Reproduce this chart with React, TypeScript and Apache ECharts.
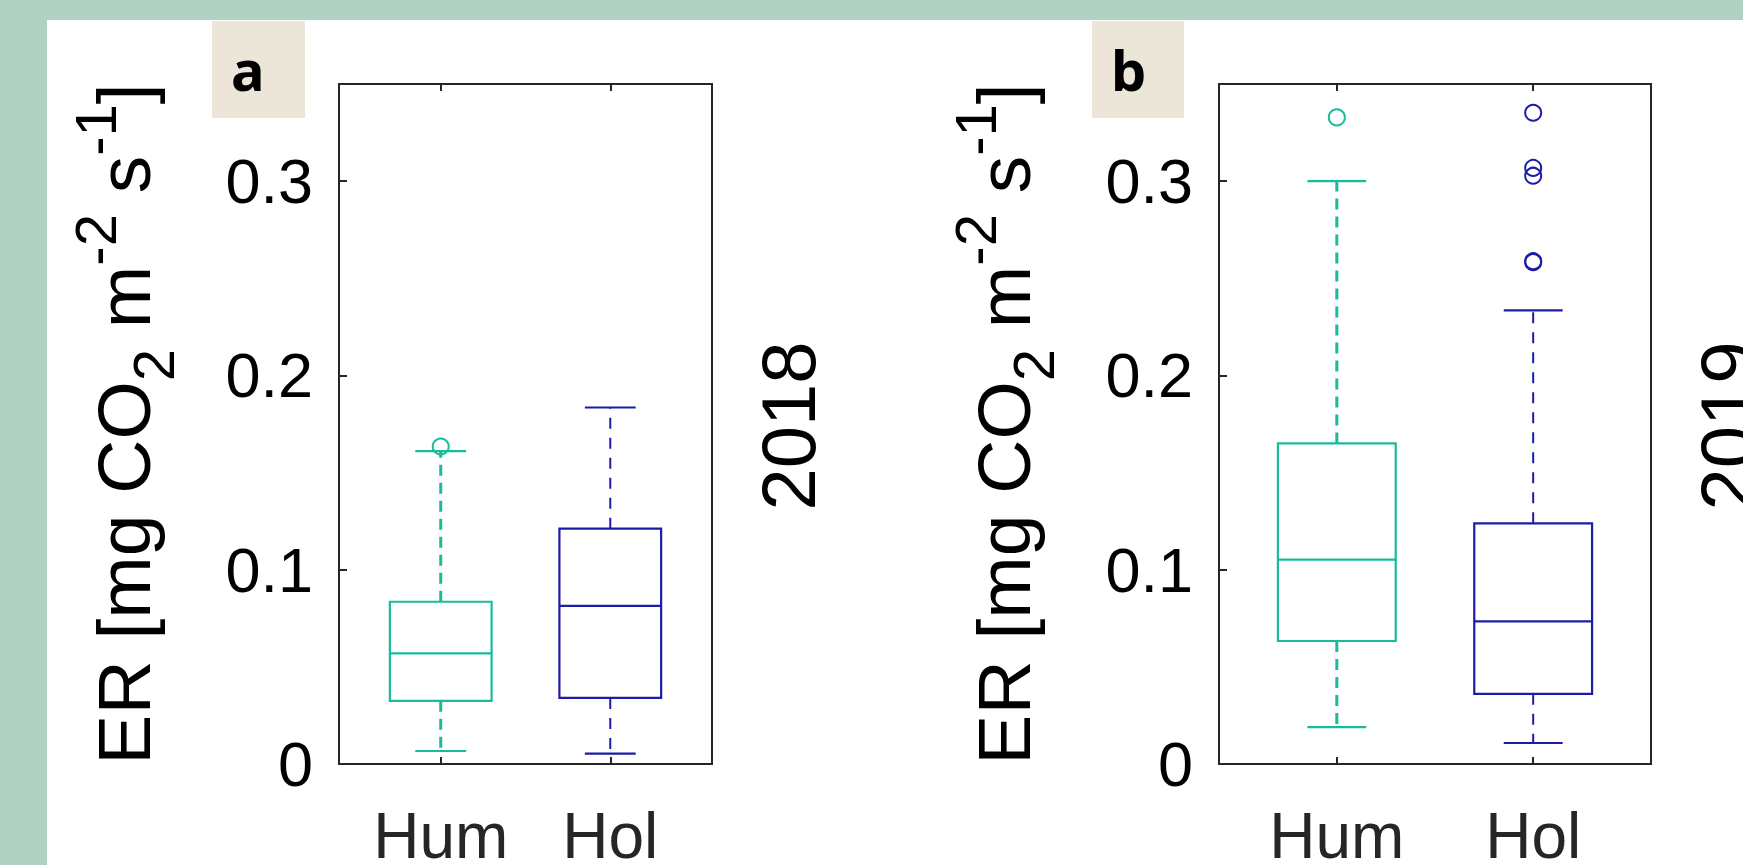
import React, { useEffect, useRef } from 'react';
import * as echarts from 'echarts';

// ---------- data ----------
const categories = ['Hum', 'Hol'];
const years = ['2018', '2019'];
const panelLetters = ['a', 'b'];
const yTicks = [0, 0.1, 0.2, 0.3];
// box stats: [lower whisker, Q1, median, Q3, upper whisker]
const box2018Hum = [0.0067, 0.0325, 0.0569, 0.0835, 0.161];
const box2018Hol = [0.0053, 0.034, 0.0814, 0.1211, 0.1835];
const box2019Hum = [0.019, 0.0633, 0.1052, 0.165, 0.3];
const box2019Hol = [0.0108, 0.0361, 0.0734, 0.1239, 0.2335];
const outliers2018Hum = [0.1634];
const outliers2018Hol: number[] = [];
const outliers2019Hum = [0.3328];
const outliers2019Hol = [0.3352, 0.3068, 0.3028, 0.2588, 0.2583];

const colors = ['#1abb9c', '#1c1ca8'];
const FONT = "'Liberation Sans', Arial, sans-serif";

const panels = [
  { boxes: [box2018Hum, box2018Hol], outs: [outliers2018Hum, outliers2018Hol], grid: { left: 339, top: 84, width: 373, height: 680 } },
  { boxes: [box2019Hum, box2019Hol], outs: [outliers2019Hum, outliers2019Hol], grid: { left: 1219, top: 84, width: 432, height: 680 } },
];

const yName = '{m|ER [mg CO}{s|2}{m| m}{p|-2}{m| s}{p|-1}{m|]}';

function buildOption() {
  const tickStyle = { color: '#262626', width: 2 };
  const grid = panels.map((p) => ({
    ...p.grid,
    show: true,
    backgroundColor: '#ffffff',
    borderColor: '#262626',
    borderWidth: 2,
    containLabel: false,
    outerBoundsMode: 'none',
  }));
  const xAxis: any[] = [];
  const yAxis: any[] = [];
  const series: any[] = [];
  panels.forEach((p, i) => {
    xAxis.push({
      gridIndex: i, type: 'value', min: 0.4, max: 2.6, position: 'bottom',
      axisLine: { show: false }, splitLine: { show: false },
      axisTick: { show: true, inside: true, length: 7, customValues: [1, 2], lineStyle: tickStyle },
      axisLabel: {
        customValues: [1, 2],
        formatter: (v: number) => categories[Math.round(v) - 1] ?? '',
        fontSize: 64, fontFamily: FONT, color: '#262626', margin: 40,
      },
    });
    xAxis.push({
      gridIndex: i, type: 'value', min: 0.4, max: 2.6, position: 'top',
      axisLine: { show: false }, splitLine: { show: false },
      axisTick: { show: true, inside: true, length: 7, customValues: [1, 2], lineStyle: tickStyle },
      axisLabel: { show: false },
    });
    yAxis.push({
      gridIndex: i, type: 'value', min: 0, max: 0.35,
      axisLine: { show: false }, splitLine: { show: false },
      axisTick: { show: true, inside: true, length: 8, customValues: [0.1, 0.2, 0.3], lineStyle: tickStyle },
      axisLabel: {
        customValues: yTicks,
        formatter: (v: number) => (v === 0 ? '0' : v.toFixed(1)),
        fontSize: 63, fontFamily: FONT, color: '#000', margin: 26, padding: [12, 0, 0, 0],
      },
      name: yName,
      nameLocation: 'middle',
      nameGap: 157,
      nameTextStyle: {
        fontFamily: FONT, color: '#000',
        rich: {
          m: { fontSize: 75, lineHeight: 116, fontFamily: FONT, color: '#000' },
          p: { fontSize: 58, lineHeight: 58, verticalAlign: 'top', fontFamily: FONT, color: '#000' },
          s: { fontSize: 58, lineHeight: 34, verticalAlign: 'bottom', fontFamily: FONT, color: '#000' },
        },
      },
    });
    series.push({
      type: 'custom',
      xAxisIndex: i * 2,
      yAxisIndex: i,
      encode: { x: 0, y: [1, 2, 3, 4, 5] },
      data: p.boxes.map((b, k) => [k + 1, ...b]),
      renderItem: (params: any, api: any) => {
        const k = params.dataIndex;
        const xv = api.value(0);
        const color = colors[k];
        const c = (d: number) => api.coord([xv, api.value(d)]);
        const [cx, yLow] = c(1);
        const yQ1 = c(2)[1];
        const yMed = c(3)[1];
        const yQ3 = c(4)[1];
        const yHigh = c(5)[1];
        const half = api.size([0.3, 0])[0];
        const cap = api.size([0.15, 0])[0];
        const lw = 2.2;
        const wlw = k === 0 ? 3 : 2;
        const dash = k === 0 ? [11, 7] : [11, 9];
        return {
          type: 'group',
          children: [
            { type: 'line', shape: { x1: cx, y1: yQ3, x2: cx, y2: yHigh }, style: { stroke: color, lineWidth: wlw, lineDash: dash } },
            { type: 'line', shape: { x1: cx, y1: yQ1, x2: cx, y2: yLow }, style: { stroke: color, lineWidth: wlw, lineDash: dash } },
            { type: 'line', shape: { x1: cx - cap, y1: yHigh, x2: cx + cap, y2: yHigh }, style: { stroke: color, lineWidth: lw } },
            { type: 'line', shape: { x1: cx - cap, y1: yLow, x2: cx + cap, y2: yLow }, style: { stroke: color, lineWidth: lw } },
            { type: 'rect', shape: { x: cx - half, y: yQ3, width: half * 2, height: yQ1 - yQ3 }, style: { fill: 'none', stroke: color, lineWidth: lw } },
            { type: 'line', shape: { x1: cx - half, y1: yMed, x2: cx + half, y2: yMed }, style: { stroke: color, lineWidth: lw } },
          ],
        };
      },
      z: 3,
    });
    p.outs.forEach((o, k) => {
      series.push({
        type: 'scatter',
        xAxisIndex: i * 2,
        yAxisIndex: i,
        data: o.map((v) => [k + 1, v]),
        symbol: 'circle',
        symbolSize: 16,
        itemStyle: { color: 'transparent', borderColor: colors[k], borderWidth: 2, opacity: 1 },
        z: 4,
      });
    });
  });

  const letterBoxes = [
    { x: 212, w: 93, tx: 231 },
    { x: 1092, w: 92, tx: 1111 },
  ];
  const yearX = [788, 1727];
  const graphic: any[] = [];
  panelLetters.forEach((l, i) => {
    graphic.push({
      type: 'rect', left: letterBoxes[i].x, top: 21,
      shape: { x: 0, y: 0, width: letterBoxes[i].w, height: 97 },
      style: { fill: '#ece6d8' },
    });
    graphic.push({
      type: 'text', x: letterBoxes[i].tx, y: 69,
      style: {
        text: l, fontSize: 56, fontWeight: 'bold', fontFamily: "'Noto Sans', 'Open Sans', sans-serif", fill: '#000',
        align: 'left', verticalAlign: 'middle', textAlign: 'left', textVerticalAlign: 'middle',
      },
    });
    graphic.push({
      type: 'text', x: yearX[i], y: 426, rotation: Math.PI / 2,
      style: {
        text: years[i], fontSize: 76, fontFamily: FONT, fill: '#000',
        align: 'center', verticalAlign: 'middle', textAlign: 'center', textVerticalAlign: 'middle',
      },
    });
  });

  return {
    animation: false,
    backgroundColor: 'transparent',
    grid, xAxis, yAxis, series, graphic,
  };
}

export default function App() {
  const ref = useRef<HTMLDivElement>(null);
  useEffect(() => {
    document.body.style.margin = '0';
    if (!ref.current) return;
    const chart = echarts.init(ref.current, undefined, { renderer: 'svg' });
    chart.setOption(buildOption() as any);
    return () => chart.dispose();
  }, []);
  return (
    <div style={{ position: 'relative', width: 1743, height: 865, background: '#b0d2c4', overflow: 'hidden' }}>
      <div style={{ position: 'absolute', left: 47, top: 20, width: 1696, height: 845, background: '#ffffff' }} />
      <div ref={ref} style={{ position: 'absolute', left: 0, top: 0, width: 1743, height: 865 }} />
    </div>
  );
}
